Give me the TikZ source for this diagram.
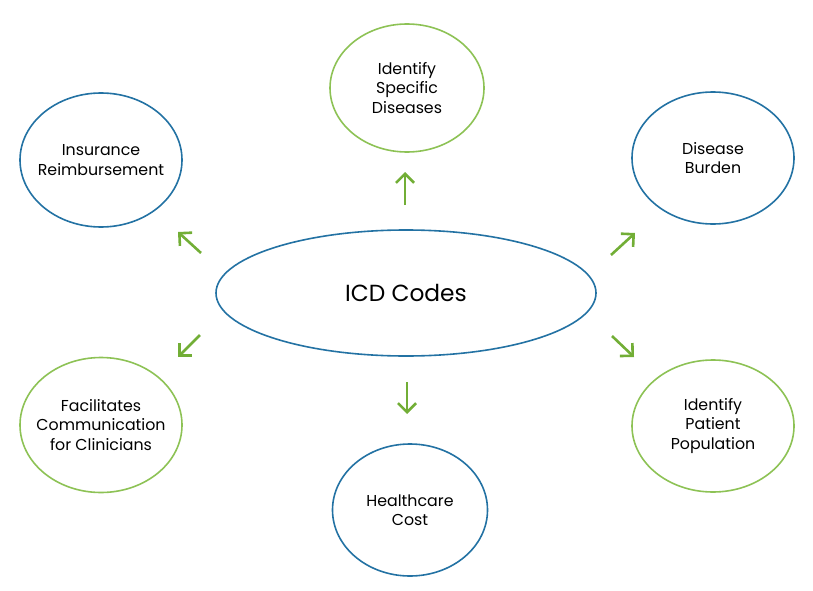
\documentclass[tikz,border=0pt]{standalone}
\usepackage{fontspec}
\setmainfont{Poppins}
\usetikzlibrary{shapes.geometric,arrows.meta}
\definecolor{eblue}{HTML}{2372A3}
\definecolor{egreen}{HTML}{8DC255}
\definecolor{agreen}{HTML}{72AE36}
\tikzset{
  bubble/.style={ellipse, draw=#1, line width=1.6pt, inner sep=-14pt, align=center,
     font=\fontsize{15.8}{19.5}\selectfont, text=black},
  arr/.style={draw=agreen, line width=2.6pt, -{Straight Barb[length=9pt,width=18pt,line width=2.6pt]}}
}
\begin{document}
\begin{tikzpicture}[x=1pt,y=-1pt]
\useasboundingbox (0,0) rectangle (813,591);
\node[bubble=eblue, minimum width=380, minimum height=126, font=\fontsize{23.3}{27}\selectfont] (icd) at (406,293) {ICD Codes};
\node[bubble=egreen, minimum width=154, minimum height=128] (isd) at (407,88) {Identify\\Specific\\Diseases};
\node[bubble=eblue, minimum width=162, minimum height=134] (ins) at (101,160) {Insurance\\Reimbursement};
\node[bubble=eblue, minimum width=162, minimum height=132] (db) at (713,158) {Disease\\Burden};
\node[bubble=egreen, minimum width=162, minimum height=135] (fc) at (101,425) {Facilitates\\Communication\\for Clinicians};
\node[bubble=eblue, minimum width=155, minimum height=132] (hc) at (410,510) {Healthcare\\Cost};
\node[bubble=egreen, minimum width=162, minimum height=132] (ipp) at (713,426) {Identify\\Patient\\Population};
\coordinate (a1s) at (201,253); \coordinate (a1e) at (178,232);
\coordinate (a2s) at (405,205); \coordinate (a2e) at (405,172);
\coordinate (a3s) at (611,255); \coordinate (a3e) at (635,233);
\coordinate (a4s) at (612,336); \coordinate (a4e) at (634,357);
\coordinate (a5s) at (200,335); \coordinate (a5e) at (178,357);
\coordinate (a6s) at (407,382); \coordinate (a6e) at (407,414);
\draw[arr] (a1s) -- (a1e);
\draw[arr] (a2s) -- (a2e);
\draw[arr] (a3s) -- (a3e);
\draw[arr] (a4s) -- (a4e);
\draw[arr] (a5s) -- (a5e);
\draw[arr] (a6s) -- (a6e);
\end{tikzpicture}
\end{document}
